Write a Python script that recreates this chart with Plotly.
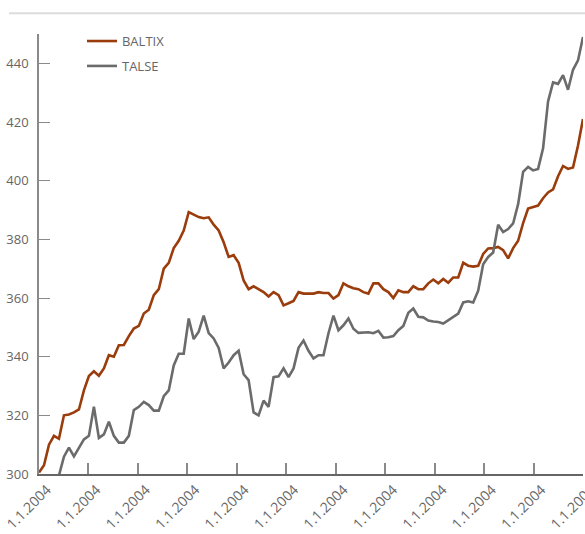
import numpy as np
import plotly.graph_objects as go

# Index levels, sampled at equal steps along the period
baltix = [
    300.5, 303, 310, 313, 312, 320, 320.3, 321, 322, 328.5,
    333.4, 335, 333.5, 336, 340.5, 340, 343.9, 344, 347, 349.6,
    350.5, 354.7, 356, 361, 363, 370, 372, 377, 379.5, 383,
    389.3, 388.5, 387.6, 387.2, 387.5, 385, 383, 379, 374, 374.6,
    372, 366, 363, 364, 363, 362, 360.5, 362, 361, 357.5,
    358.2, 359, 362, 361.5, 361.5, 361.5, 362, 361.7, 361.7, 359.8,
    361, 365, 364, 363.3, 363, 362, 361.5, 365, 365, 363,
    362, 360, 362.6, 362, 362, 364, 363, 363, 365, 366.3,
    365, 366.5, 365.2, 367, 367, 372, 371, 370.7, 371, 375,
    376.9, 377, 377.4, 376.3, 373.5, 377, 379.5, 385.5, 390.5, 391,
    391.5, 394, 396, 397, 401.5, 405, 404, 404.5, 412, 421,
]

talse = [
    297, 298, 297.5, 298.5, 299.5, 305.9, 309, 306, 308.7, 311.8,
    313, 322.9, 312.3, 313.5, 317.8, 313, 310.7, 310.7, 313, 321.8,
    322.9, 324.6, 323.5, 321.6, 321.6, 326.5, 328.5, 337, 341, 341,
    353, 346, 348.5, 354, 348, 346.2, 343, 336, 338, 340.5,
    342, 334, 332, 321, 320, 325, 322.9, 333, 333.3, 336,
    333, 336, 343, 345.5, 342, 339.4, 340.5, 340.5, 348, 354,
    349, 350.7, 353, 349.5, 348.1, 348.1, 348.3, 348, 348.8, 346.5,
    346.6, 347, 349, 350.5, 355, 356.4, 353.6, 353.4, 352.3, 352,
    351.8, 351.3, 352.5, 353.6, 354.7, 358.5, 358.9, 358.5, 362.5, 371.5,
    374, 375.5, 385, 382.5, 383.5, 385.4, 392, 403, 404.7, 403.5,
    404, 411, 427, 433.5, 433, 436, 431, 437.8, 441, 449,
]

date_labels = ["1.1.2004"] * 12
y_ticks = [300, 320, 340, 360, 380, 400, 420, 440]

BROWN = "#9a3c0c"
GREY = "#6b6b6b"
TEXT = "#666666"

n = len(baltix)
x = np.arange(n)
tick_pos = np.linspace(0, n - 1, len(date_labels))

fig = go.Figure()
fig.add_trace(go.Scatter(x=x, y=baltix, mode="lines", name="BALTIX", legendgroup="b",
                         line=dict(color=BROWN, width=2.6)))
fig.add_trace(go.Scatter(x=x, y=talse, mode="lines", name="TALSE", legendgroup="t",
                         line=dict(color=GREY, width=2.6)))

fig.update_layout(
    width=585, height=534,
    margin=dict(l=39, r=2, t=34, b=60),
    paper_bgcolor="white", plot_bgcolor="white",
    font=dict(family="Open Sans", size=13, color=TEXT),
    showlegend=True,
    legend=dict(x=0.079, y=1.018, xanchor="left", yanchor="top",
                bgcolor="rgba(0,0,0,0)", font=dict(size=13, color=TEXT),
                tracegroupgap=5, itemwidth=30),
    shapes=[dict(type="line", xref="paper", yref="paper",
                 x0=-0.055, x1=1.004, y0=1.047, y1=1.047,
                 line=dict(color="#dcdcdc", width=2))],
)

fig.update_xaxes(
    range=[0, n - 1], tickmode="array", tickvals=tick_pos, ticktext=date_labels,
    tickangle=-45, ticks="inside", ticklen=11, tickcolor="#8a8a8a", tickwidth=1.5,
    showline=True, linecolor="#666666", linewidth=2, showgrid=False, zeroline=False,
    tickfont=dict(size=14, color=TEXT), ticklabelshift=8, ticklabeloverflow="allow",
    automargin=False,
)
fig.update_yaxes(
    range=[300, 450], tickmode="array", tickvals=y_ticks,
    ticks="inside", ticklen=11, tickcolor="#8a8a8a", tickwidth=1.2,
    showline=True, linecolor="#8a8a8a", linewidth=1.5, showgrid=False, zeroline=False,
    tickfont=dict(size=13, color=TEXT), ticklabelstandoff=6, automargin=False,
)

fig.write_html("out.html")
